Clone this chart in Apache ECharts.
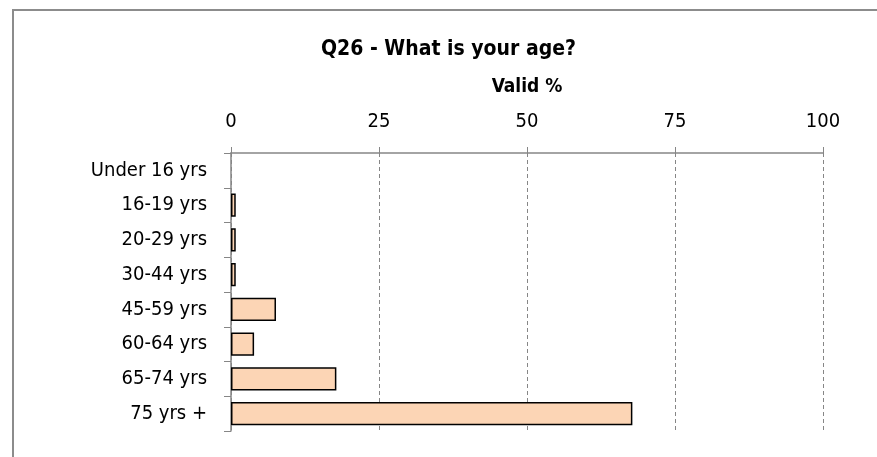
<!DOCTYPE html>
<html>
<head>
<meta charset="utf-8">
<script src="https://cdn.jsdelivr.net/npm/echarts@6/dist/echarts.min.js"></script>
<style>
html,body{margin:0;padding:0;background:#fff;}
#main{width:877px;height:457px;}
</style>
</head>
<body>
<div id="main"></div>
<script>
const categories = ["Under 16 yrs","16-19 yrs","20-29 yrs","30-44 yrs","45-59 yrs","60-64 yrs","65-74 yrs","75 yrs +"];
const validPct = [0, 0.8, 0.8, 0.8, 7.6, 3.9, 17.8, 67.8];
const xTicks = [0, 25, 50, 75, 100];
const titleText = "Q26 - What is your age?";
const axisName = "Valid %";

const FONT = '"Liberation Sans Narrow","DejaVu Sans Condensed","Open Sans",sans-serif';
const chart = echarts.init(document.getElementById('main'), null, {renderer:'canvas'});
chart.setOption({
  backgroundColor:'#ffffff',
  animation:false,
  title:{
    text:titleText,
    left:316,
    top:34,
    textStyle:{fontFamily:FONT,fontSize:21,fontWeight:'bold',color:'#000'}
  },
  graphic:[{
    type:'rect',
    shape:{x:13,y:10,width:900,height:500},
    style:{fill:'none',stroke:'#8c8c8c',lineWidth:2},
    silent:true
  }],
  grid:{left:231,right:54,top:153,bottom:26,containLabel:false},
  xAxis:{
    type:'value',
    position:'top',
    min:xTicks[0],
    max:xTicks[xTicks.length-1],
    interval:xTicks[1]-xTicks[0],
    name:axisName,
    nameLocation:'middle',
    nameGap:56,
    nameTextStyle:{fontFamily:FONT,fontSize:19,fontWeight:'bold',color:'#000'},
    axisLine:{show:true,lineStyle:{color:'#868686',width:1.5}},
    axisTick:{show:true,length:6,lineStyle:{color:'#868686'}},
    axisLabel:{margin:21,fontFamily:FONT,fontSize:20,color:'#000'},
    splitLine:{show:true,lineStyle:{color:'#868686',type:[4,3],width:1}}
  },
  yAxis:{
    type:'category',
    data:categories,
    inverse:true,
    axisLine:{show:true,lineStyle:{color:'#868686',width:1.5}},
    axisTick:{show:true,length:7,lineStyle:{color:'#868686'}},
    axisLabel:{margin:24,fontFamily:FONT,fontSize:20,color:'#000'},
    splitLine:{show:false}
  },
  series:[{
    type:'bar',
    data:validPct.map(v => v === 0 ? {value:v,itemStyle:{borderWidth:0}} : v),
    barWidth:'67%',
    itemStyle:{color:'#FCD5B5',borderColor:'#000',borderWidth:1.5},
    silent:true
  }]
});
</script>
</body>
</html>
